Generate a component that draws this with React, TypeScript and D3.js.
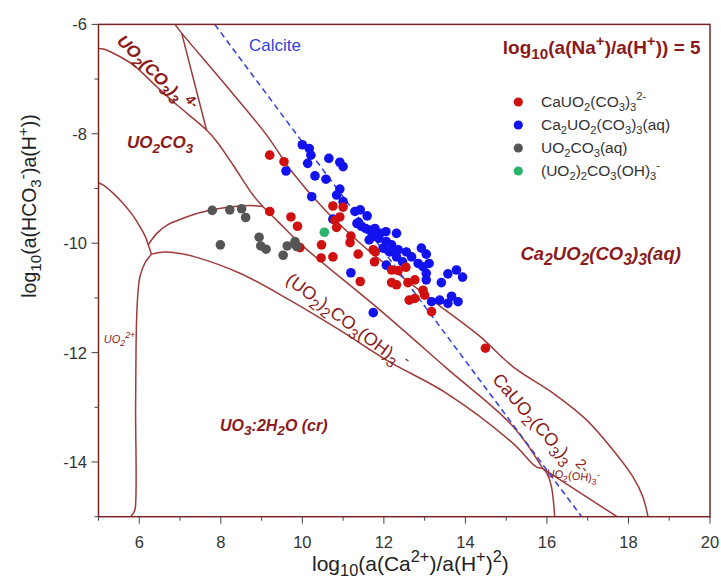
import React from 'react';
import * as d3 from 'd3';

type P = [number, number];

// ---- measured samples ----
const caUO2CO3Points: P[] = [
  [9.20, -8.39], [9.55, -8.51], [9.20, -9.42], [9.72, -9.52], [9.88, -9.69], [9.94, -10.08],
  [10.47, -10.03], [10.46, -10.27], [10.75, -10.25], [10.75, -9.32], [11.00, -9.34], [10.92, -9.52],
  [10.80, -9.58], [10.84, -9.71], [11.19, -9.87], [11.17, -9.99], [11.37, -10.20], [11.79, -10.16],
  [11.77, -10.34], [11.74, -10.12], [12.19, -10.49], [12.35, -10.50], [12.54, -10.44], [12.19, -10.72],
  [12.31, -10.76], [12.59, -10.72], [12.76, -10.67], [12.96, -10.86], [13.00, -10.95], [12.62, -11.04],
  [12.76, -11.01], [13.17, -11.25], [11.42, -10.70], [14.49, -11.92],
];

const ca2UO2CO3Points: P[] = [
  [10.00, -8.20], [10.17, -8.27], [10.21, -8.39], [10.13, -8.54], [10.65, -8.45], [10.92, -8.52],
  [11.00, -8.60], [9.60, -8.68], [10.31, -8.77], [10.58, -8.83], [10.92, -9.01], [10.84, -9.12],
  [10.23, -9.15], [11.00, -9.24], [11.29, -9.42], [11.42, -9.39], [11.59, -9.50], [11.34, -9.64],
  [11.45, -9.69], [11.64, -9.76], [11.78, -9.73], [11.90, -9.82], [12.05, -9.79], [12.31, -9.82],
  [11.72, -9.88], [11.88, -9.91], [10.75, -9.56], [12.06, -9.97], [12.19, -10.03], [11.98, -10.09],
  [12.14, -10.16], [12.35, -10.12], [12.55, -10.16], [12.31, -10.25], [12.46, -10.34], [12.68, -10.25],
  [12.92, -10.09], [13.04, -10.20], [12.84, -10.37], [12.96, -10.43], [13.11, -10.37], [13.04, -10.55],
  [13.04, -10.67], [12.06, -10.40], [11.19, -10.54], [13.41, -10.72], [13.57, -10.56], [13.78, -10.49],
  [13.93, -10.62], [13.66, -10.97], [13.57, -11.10], [13.82, -11.07], [13.17, -11.07], [13.37, -11.04],
  [11.74, -11.27], [11.64, -9.94], [11.38, -9.62], [11.55, -9.73],
];

const uo2CO3Points: P[] = [
  [7.79, -9.40], [8.22, -9.39], [8.51, -9.37], [8.61, -9.53], [7.99, -10.03], [8.94, -9.89],
  [8.98, -10.05], [9.11, -10.11], [9.53, -10.22], [9.63, -10.05], [9.82, -9.97], [9.86, -10.06],
];

const uo22CO3OHPoints: P[] = [[10.54, -9.80]];

// ---- phase boundaries ----
const lineUO2CO3Top: P[] = [
  [5.0, -6.44], [5.12, -6.45], [5.45, -6.56], [5.85, -6.74], [6.43, -7.14], [6.92, -7.47],
  [7.65, -7.93], [7.9, -8.14], [8.3, -8.57], [8.79, -9.12], [9.03, -9.33], [9.41, -9.61],
  [9.98, -10.03], [11.9, -11.22], [13.53, -12.28], [15.17, -13.35], [15.9, -14.12],
];
const lineCa2Boundary: P[] = [
  [6.875, -6.0], [7.04, -6.16], [8.05, -7.05], [9.12, -8.02], [9.74, -8.69], [10.55, -9.39],
  [11.37, -9.97], [11.7, -10.18], [13.29, -11.1], [14.35, -11.7], [15.17, -12.26], [16.15, -12.74],
  [16.97, -13.23], [17.62, -13.78], [18.11, -14.27], [18.35, -14.63], [18.48, -15.0],
];
const lineUO2CO33Wedge: P[] = [[7.04, -6.16], [7.65, -7.93]];
const lineUO2Top: P[] = [
  [5.0, -8.9], [5.1, -8.93], [5.35, -9.08], [5.6, -9.27], [5.85, -9.5], [6.02, -9.7], [6.15, -9.88], [6.22, -10.03],
];
const lineJunction: P[] = [[6.22, -10.03], [6.3, -10.2]];
const lineDome: P[] = [
  [6.22, -10.03], [6.43, -9.82], [6.7, -9.66], [6.95, -9.58], [7.5, -9.44], [8.2, -9.34], [8.7, -9.31], [9.03, -9.33],
];
const lineUO2Right: P[] = [
  [6.3, -10.2], [6.14, -10.36], [6.02, -10.6], [5.98, -10.8], [5.94, -11.28], [5.92, -11.95],
  [5.91, -13.0], [5.9, -14.85], [5.86, -14.93], [5.79, -15.0],
];
const lineUO3Top: P[] = [
  [6.3, -10.2], [6.63, -10.16], [7.0, -10.19], [7.37, -10.25], [8.47, -10.55], [9.69, -11.04],
  [10.92, -11.59], [12.14, -12.17], [13.53, -12.74], [15.17, -13.66], [15.74, -14.09], [15.9, -14.12],
];
const lineUO2OH3Top: P[] = [[15.9, -14.12], [17.72, -15.0]];
const lineUO2OH3Left: P[] = [[15.9, -14.12], [16.0, -14.21], [16.11, -14.45], [16.17, -14.8], [16.19, -15.0]];
const calciteLine: P[] = [[7.85, -6.0], [16.85, -15.0]];

const xMajor = [6, 8, 10, 12, 14, 16, 18, 20];
const xMinor = [5, 7, 9, 11, 13, 15, 17, 19];
const yMajor = [-6, -8, -10, -12, -14];
const yMinor = [-7, -9, -11, -13, -15];

const legendLabels = [
  'CaUO_{2}(CO_{3})_{3}^{2-}',
  'Ca_{2}UO_{2}(CO_{3})_{3}(aq)',
  'UO_{2}CO_{3}(aq)',
  '(UO_{2})_{2}CO_{3}(OH)_{3}^{-}',
];
const legendColors = ['#d00f0f', '#1212ee', '#555555', '#2bb36b'];

const W = 721;
const H = 583;
const FONT = 'Liberation Sans, Arial, sans-serif';
const LINE = '#9e3a3a';
const DARK = '#8b1a1a';

function parseRich(s: string) {
  const out: { t: string; k: 'n' | 'sub' | 'sup' }[] = [];
  let i = 0;
  let buf = '';
  while (i < s.length) {
    const c = s[i];
    if ((c === '_' || c === '^') && s[i + 1] === '{') {
      if (buf) { out.push({ t: buf, k: 'n' }); buf = ''; }
      const end = s.indexOf('}', i);
      out.push({ t: s.slice(i + 2, end), k: c === '_' ? 'sub' : 'sup' });
      i = end + 1;
    } else {
      buf += c;
      i++;
    }
  }
  if (buf) out.push({ t: buf, k: 'n' });
  return out;
}

function rich(s: string, fs: number, scale = 0.72, subShift = 0.28) {
  let cur = 0;
  return parseRich(s).map((seg, i) => {
    const target = seg.k === 'sub' ? fs * subShift : seg.k === 'sup' ? -fs * 0.42 : 0;
    const dy = target - cur;
    cur = target;
    return (
      <tspan key={i} dy={dy} fontSize={seg.k === 'n' ? fs : fs * scale}>
        {seg.t}
      </tspan>
    );
  });
}

export default function App() {
  const x = d3.scaleLinear().domain([5, 20]).range([98.5, 710]);
  const y = d3.scaleLinear().domain([-15, -6]).range([516.7, 24.4]);
  const line = d3.line<P>().x((d) => x(d[0])).y((d) => y(d[1]));
  const smooth = d3.line<P>().x((d) => x(d[0])).y((d) => y(d[1])).curve(d3.curveCatmullRom.alpha(0.5));

  const boundaries = [lineUO2CO3Top, lineCa2Boundary, lineUO2Top, lineDome, lineUO2Right, lineUO3Top, lineUO2OH3Left];
  const straight = [lineUO2CO33Wedge, lineJunction, lineUO2OH3Top];

  const [x0, x1] = x.range();
  const [yb, yt] = y.range();

  const label = (
    text: string, px: number, py: number, fs: number,
    opts: { rot?: number; italic?: boolean; bold?: boolean; color?: string; anchor?: string; scale?: number } = {}
  ) => (
    <text
      x={0}
      y={0}
      transform={`translate(${px},${py}) rotate(${opts.rot || 0})`}
      fontFamily={FONT}
      fontSize={fs}
      fontStyle={opts.italic ? 'italic' : 'normal'}
      fontWeight={opts.bold ? 'bold' : 'normal'}
      fill={opts.color || DARK}
      textAnchor={opts.anchor || 'start'}
    >
      {rich(text, fs, opts.scale)}
    </text>
  );

  return (
    <svg width={W} height={H} style={{ position: 'absolute', left: 0, top: 0, background: '#fff' }}>
      <defs>
        <clipPath id="plot">
          <rect x={x0} y={yt} width={x1 - x0} height={yb - yt} />
        </clipPath>
      </defs>
      <rect width={W} height={H} fill="#fff" />

      <g clipPath="url(#plot)">
        {boundaries.map((b, i) => (
          <path key={i} d={smooth(b) || ''} fill="none" stroke={LINE} strokeWidth={1.5} />
        ))}
        {straight.map((b, i) => (
          <path key={'s' + i} d={line(b) || ''} fill="none" stroke={LINE} strokeWidth={1.5} />
        ))}
        <path d={line(calciteLine) || ''} fill="none" stroke="#2f3fe0" strokeWidth={1.5} strokeDasharray="6 4" />

        {ca2UO2CO3Points.map((d, i) => (
          <circle key={'b' + i} cx={x(d[0])} cy={y(d[1])} r={4.8} fill={legendColors[1]} />
        ))}
        {caUO2CO3Points.map((d, i) => (
          <circle key={'r' + i} cx={x(d[0])} cy={y(d[1])} r={4.8} fill={legendColors[0]} />
        ))}
        {uo2CO3Points.map((d, i) => (
          <circle key={'g' + i} cx={x(d[0])} cy={y(d[1])} r={4.8} fill={legendColors[2]} />
        ))}
        {uo22CO3OHPoints.map((d, i) => (
          <circle key={'e' + i} cx={x(d[0])} cy={y(d[1])} r={4.8} fill={legendColors[3]} />
        ))}
      </g>

      {/* field labels */}
      {label('UO_{2}(CO_{3})_{3} ^{4-}', x(5.43), y(-6.32), 17, { rot: 45, italic: true, bold: true, scale: 0.8 })}
      {label('UO_{2}CO_{3}', x(5.7), y(-8.26), 17, { italic: true, bold: true, scale: 0.8 })}
      {label('Ca_{2}UO_{2}(CO_{3})_{3}(aq)', x(15.35), y(-10.31), 18.5, { italic: true, bold: true, scale: 0.85 })}
      {label('(UO_{2})_{2}CO_{3}(OH)_{3} ^{-}', x(9.57), y(-10.71), 18, { rot: 37, scale: 0.8 })}
      {label('CaUO_{2}(CO_{3})_{3} ^{2-}', x(14.64), y(-12.5), 18, { rot: 49, scale: 0.8 })}
      {label('UO_{3}:2H_{2}O (cr)', x(7.98), y(-13.43), 16, { italic: true, bold: true, scale: 0.85 })}
      {label('UO_{2}^{2+}', x(5.13), y(-11.82), 11, { italic: true, scale: 0.8 })}
      {label('UO_{2}(OH)_{3}^{-}', x(15.99), y(-14.27), 11, { rot: 6, scale: 0.8 })}
      {label('Calcite', x(8.69), y(-6.49), 17, { color: '#2f3fe0' })}
      {label('log_{10}(a(Na^{+})/a(H^{+})) = 5', x(19.77), y(-6.54), 19, { bold: true, anchor: 'end', scale: 0.8 })}

      {/* legend */}
      {legendLabels.map((t, i) => (
        <g key={'l' + i}>
          <circle cx={518.3} cy={102 + i * 23} r={4.6} fill={legendColors[i]} />
          <text x={541} y={107 + i * 23} fontFamily={FONT} fontSize={15.5} fill="#333">
            {rich(t, 15.5, 0.72)}
          </text>
        </g>
      ))}

      {/* frame */}
      <rect x={x0} y={yt} width={x1 - x0} height={yb - yt} fill="none" stroke="#7a2424" strokeWidth={1.5} />

      {/* axis ticks */}
      {xMajor.map((v) => (
        <g key={'xm' + v}>
          <line x1={x(v)} x2={x(v)} y1={yb} y2={yb + 7} stroke="#444" strokeWidth={1} />
          <text x={x(v)} y={548} textAnchor="middle" fontFamily={FONT} fontSize={16.5} fill="#333">{v}</text>
        </g>
      ))}
      {xMinor.map((v) => (
        <line key={'xn' + v} x1={x(v)} x2={x(v)} y1={yb} y2={yb + 4} stroke="#444" strokeWidth={1} />
      ))}
      {yMajor.map((v) => (
        <g key={'ym' + v}>
          <line x1={x0} x2={x0 - 7} y1={y(v)} y2={y(v)} stroke="#444" strokeWidth={1} />
          <text x={87} y={y(v) + 6} textAnchor="end" fontFamily={FONT} fontSize={16.5} fill="#333">{v}</text>
        </g>
      ))}
      {yMinor.map((v) => (
        <line key={'yn' + v} x1={x0} x2={x0 - 4} y1={y(v)} y2={y(v)} stroke="#444" strokeWidth={1} />
      ))}

      {/* axis titles */}
      <text x={312} y={571} fontFamily={FONT} fontSize={21} fill="#222">
        {rich('log_{10}(a(Ca^{2+})/a(H^{+})^{2})', 21, 0.78, 0.22)}
      </text>
      <text transform="translate(36,206) rotate(-90)" textAnchor="middle" fontFamily={FONT} fontSize={19.5} fill="#222">
        {rich('log_{10}(a(HCO_{3}^{-})a(H^{+}))', 19.5, 0.78)}
      </text>
    </svg>
  );
}
